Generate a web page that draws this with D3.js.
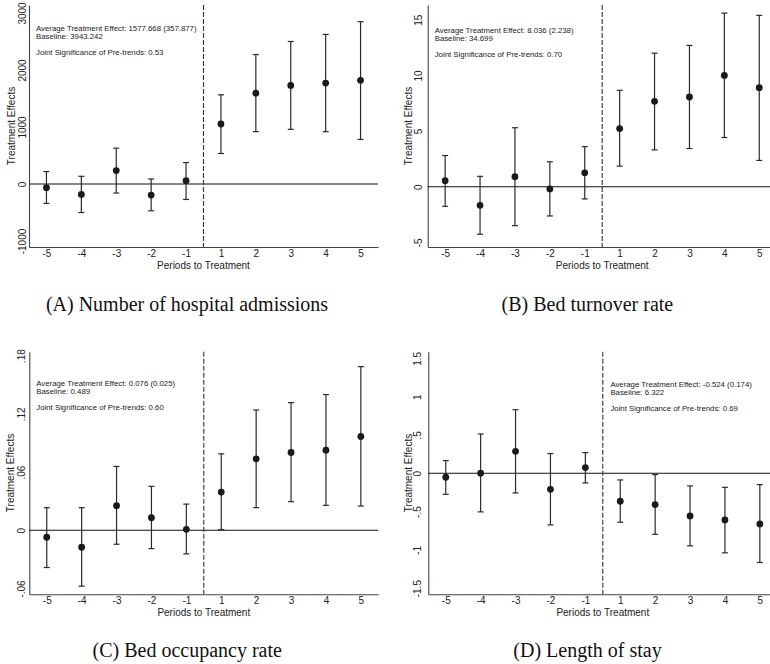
<!DOCTYPE html>
<html>
<head>
<meta charset="utf-8">
<script src="https://cdn.jsdelivr.net/npm/d3@7"></script>
<style>
	body { margin: 0; background: #fff; }
	svg { display: block; font-family: "Liberation Sans", Arial, Helvetica, sans-serif; }
	.axis text { font-size: 10px; fill: #222; }
	.axis path { stroke: #444; }
	.axisLabel { font-size: 10px; fill: #222; }
	.note { font-size: 7.8px; fill: #222; }
	.caption { font-family: "Liberation Serif", "Times New Roman", serif; font-size: 20px; fill: #111; }
</style>
</head>
<body>
<svg id="chart" width="770" height="664"></svg>
<script>
var periods = [-5, -4, -3, -2, -1, 1, 2, 3, 4, 5];

// (A) number of hospital admissions
var admEst = [-65, -182, 235, -194, 59, 1053, 1594, 1729, 1771, 1818];
var admLo = [-341, -500, -159, -470, -271, 535, 918, 959, 918, 782];
var admHi = [218, 135, 629, 88, 376, 1565, 2271, 2500, 2624, 2847];
var admTicks = [-1000, 0, 1000, 2000, 3000];
var admTickLabels = ["-1000", "0", "1000", "2000", "3000"];
var admNotes = ["Average Treatment Effect: 1577.668 (357.877)", "Baseline: 3943.242", "Joint Significance of Pre-trends: 0.53"];

// (B) bed turnover rate
var turnEst = [0.54, -1.67, 0.9, -0.2, 1.25, 5.22, 7.67, 8.06, 10.0, 8.9];
var turnLo = [-1.76, -4.27, -3.5, -2.63, -1.1, 1.85, 3.31, 3.43, 4.42, 2.36];
var turnHi = [2.8, 0.93, 5.3, 2.24, 3.6, 8.66, 12.0, 12.7, 15.6, 15.4];
var turnTicks = [-5, 0, 5, 10, 15];
var turnTickLabels = ["-5", "0", "5", "10", "15"];
var turnNotes = ["Average Treatment Effect: 8.036 (2.238)", "Baseline: 34.699", "Joint Significance of Pre-trends: 0.70"];

// (C) bed occupancy rate
var occEst = [-0.0072, -0.0175, 0.0254, 0.013, 0.001, 0.0394, 0.0737, 0.0802, 0.0826, 0.0967];
var occLo = [-0.0384, -0.0576, -0.0144, -0.0189, -0.0243, 0.0007, 0.0233, 0.0295, 0.0257, 0.025];
var occHi = [0.0233, 0.0233, 0.0658, 0.0453, 0.027, 0.0788, 0.124, 0.1316, 0.1399, 0.1687];
var occTicks = [-0.06, 0, 0.06, 0.12, 0.18];
var occTickLabels = ["-.06", "0", ".06", ".12", ".18"];
var occNotes = ["Average Treatment Effect: 0.076 (0.025)", "Baseline: 0.489", "Joint Significance of Pre-trends: 0.60"];

// (D) length of stay
var losEst = [-0.052, 0, 0.287, -0.209, 0.074, -0.365, -0.409, -0.557, -0.609, -0.661];
var losLo = [-0.274, -0.504, -0.257, -0.674, -0.126, -0.639, -0.796, -0.948, -1.039, -1.165];
var losHi = [0.165, 0.513, 0.83, 0.257, 0.27, -0.087, -0.017, -0.165, -0.183, -0.148];
var losTicks = [-1.5, -1, -0.5, 0, 0.5, 1, 1.5];
var losTickLabels = ["-1.5", "-1", "-.5", "0", ".5", "1", "1.5"];
var losNotes = ["Average Treatment Effect: -0.524 (0.174)", "Baseline: 6.322", "Joint Significance of Pre-trends: 0.69"];

var captions = ["(A) Number of hospital admissions", "(B) Bed turnover rate", "(C) Bed occupancy rate", "(D) Length of stay"];

var plotWidth = 349,
	capHalf = 3,
	dotRadius = 3.4,
	noteLines = [0, 7.6, 23.5];

var panels = [
	{ est: admEst, lo: admLo, hi: admHi, ticks: admTicks, labels: admTickLabels, notes: admNotes, caption: captions[0],
	  domain: [-1105, 3140], left: 29, top: 5, bottom: 247, tickGap: 3, titleGap: 14.5, noteAtDash: false, noteTop: 26.3, captionX: 187, captionY: 310.7 },
	{ est: turnEst, lo: turnLo, hi: turnHi, ticks: turnTicks, labels: turnTickLabels, notes: turnNotes, caption: captions[1],
	  domain: [-5.42, 16.33], left: 427.7, top: 5, bottom: 247, tickGap: 6.2, titleGap: 15.8, noteAtDash: false, noteTop: 28.3, captionX: 587.4, captionY: 310.7 },
	{ est: occEst, lo: occLo, hi: occHi, ticks: occTicks, labels: occTickLabels, notes: occNotes, caption: captions[2],
	  domain: [-0.066, 0.1841], left: 29.3, top: 351.7, bottom: 594.3, tickGap: 4.3, titleGap: 15.3, noteAtDash: false, noteTop: 34.6, captionX: 187.2, captionY: 656.5 },
	{ est: losEst, lo: losLo, hi: losHi, ticks: losTicks, labels: losTickLabels, notes: losNotes, caption: captions[3],
	  domain: [-1.58, 1.587], left: 428.3, top: 351.7, bottom: 594.3, tickGap: 7, titleGap: 16.2, noteAtDash: true, noteTop: 35.6, captionX: 587.5, captionY: 656.5 }
];

var svg = d3.select('#chart');

svg.append('rect')
	.attr('width', 770)
	.attr('height', 664)
	.attr('fill', '#fff');

panels.forEach(function(p){
	var g = svg.append('g');

	var x = d3.scalePoint()
		.domain(periods)
		.range([p.left, p.left + plotWidth])
		.padding(0.5);

	var y = d3.scaleLinear()
		.domain(p.domain)
		.range([p.bottom, p.top]);

	var rows = periods.map(function(d, i){
		return { period: d, est: p.est[i], lo: p.lo[i], hi: p.hi[i] };
	});

	var dashX = (x(-1) + x(1)) / 2;

	// x axis
	var xAxis = d3.axisBottom(x)
		.tickSizeInner(0)
		.tickSizeOuter(0)
		.tickPadding(3);

	var gx = g.append('g')
		.attr('class', 'x axis')
		.attr('transform', 'translate(0,' + p.bottom + ')')
		.call(xAxis);
	gx.select('.domain').attr('stroke-width', 1.1);

	// y axis with rotated labels
	var yAxis = d3.axisLeft(y)
		.tickValues(p.ticks)
		.tickFormat(function(d, i){ return p.labels[i]; })
		.tickSizeInner(0)
		.tickSizeOuter(0);

	var gy = g.append('g')
		.attr('class', 'y axis')
		.attr('transform', 'translate(' + p.left + ',0)')
		.call(yAxis);
	gy.select('.domain').attr('stroke-width', 1.1);
	gy.selectAll('.tick text')
		.attr('x', 0)
		.attr('y', -p.tickGap)
		.attr('dy', 0)
		.attr('text-anchor', 'middle')
		.attr('transform', 'rotate(-90)');

	g.append('text')
		.attr('class', 'axisLabel')
		.attr('transform', 'translate(' + (p.left - p.titleGap) + ',' + ((p.top + p.bottom) / 2) + ') rotate(-90)')
		.attr('text-anchor', 'middle')
		.text('Treatment Effects');

	g.append('text')
		.attr('class', 'axisLabel')
		.attr('x', p.left + plotWidth / 2)
		.attr('y', p.bottom + 21.5)
		.attr('text-anchor', 'middle')
		.text('Periods to Treatment');

	// zero line and treatment onset
	g.append('line')
		.attr('x1', p.left)
		.attr('x2', p.left + plotWidth)
		.attr('y1', y(0))
		.attr('y2', y(0))
		.attr('stroke', '#111')
		.attr('stroke-width', 1.1);

	g.append('line')
		.attr('x1', dashX)
		.attr('x2', dashX)
		.attr('y1', p.top)
		.attr('y2', p.bottom)
		.attr('stroke', '#333')
		.attr('stroke-width', 1.1)
		.attr('stroke-dasharray', '5,2');

	// confidence intervals
	var bar = g.selectAll('.ci')
		.data(rows)
		.enter().append('g')
		.attr('class', 'ci')
		.attr('stroke', '#2a2a2a')
		.attr('stroke-width', 1.2);

	bar.append('line')
		.attr('x1', function(d){ return x(d.period); })
		.attr('x2', function(d){ return x(d.period); })
		.attr('y1', function(d){ return y(d.lo); })
		.attr('y2', function(d){ return y(d.hi); });

	bar.selectAll('.cap')
		.data(function(d){ return [d.lo, d.hi].map(function(v){ return { period: d.period, v: v }; }); })
		.enter().append('line')
		.attr('class', 'cap')
		.attr('x1', function(d){ return x(d.period) - capHalf; })
		.attr('x2', function(d){ return x(d.period) + capHalf; })
		.attr('y1', function(d){ return y(d.v); })
		.attr('y2', function(d){ return y(d.v); });

	g.selectAll('.dot')
		.data(rows)
		.enter().append('circle')
		.attr('class', 'dot')
		.attr('cx', function(d){ return x(d.period); })
		.attr('cy', function(d){ return y(d.est); })
		.attr('r', dotRadius)
		.attr('fill', '#1a1a1a');

	// annotation block
	var noteX = p.noteAtDash ? dashX + 7.6 : p.left + 7;
	g.selectAll('.note')
		.data(p.notes)
		.enter().append('text')
		.attr('class', 'note')
		.attr('x', noteX)
		.attr('y', function(d, i){ return p.top + p.noteTop + noteLines[i]; })
		.text(function(d){ return d; });

	svg.append('text')
		.attr('class', 'caption')
		.attr('x', p.captionX)
		.attr('y', p.captionY)
		.attr('text-anchor', 'middle')
		.text(p.caption);
});
</script>
</body>
</html>
